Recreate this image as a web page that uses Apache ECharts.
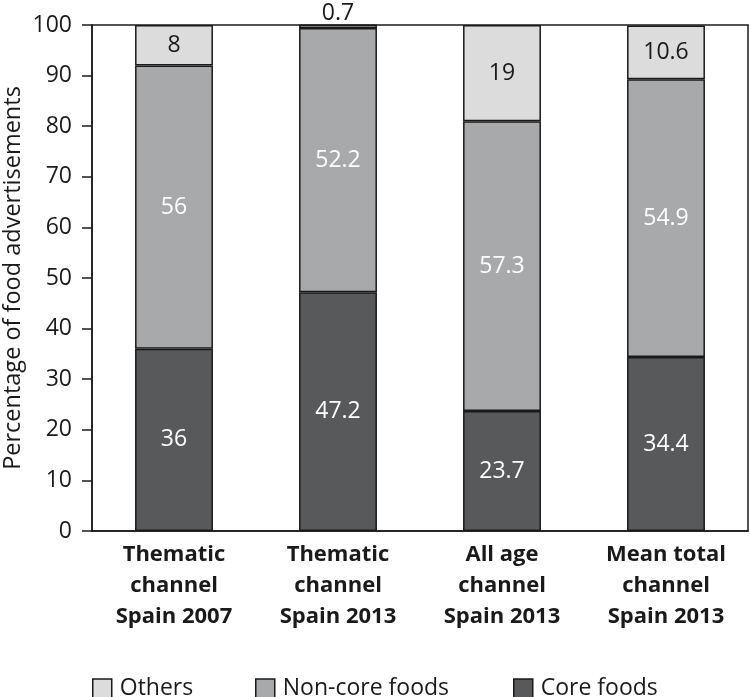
<!DOCTYPE html>
<html><head><meta charset="utf-8">
<script src="https://cdn.jsdelivr.net/npm/echarts@6/dist/echarts.min.js"></script>
<style>html,body{margin:0;padding:0;background:#fff}#c{width:750px;height:697px}</style>
</head><body><div id="c"></div>
<script>
const categories = ['Thematic\nchannel\nSpain 2007','Thematic\nchannel\nSpain 2013','All age\nchannel\nSpain 2013','Mean total\nchannel\nSpain 2013'];
const coreFoods = [36, 47.2, 23.7, 34.4];
const nonCoreFoods = [56, 52.2, 57.3, 54.9];
const others = [8, 0.7, 19, 10.6];
const yTicks = {min:0, max:100, interval:10};

const font = '"Open Sans", "Noto Sans", sans-serif';
const chart = echarts.init(document.getElementById('c'));
const barBase = {type:'bar', stack:'s', barWidth:'47.5%', itemStyle:{borderColor:'#1a1a1a', borderWidth:1.5}};
const legendBase = {icon:'rect', top:677, itemWidth:19, itemHeight:19, padding:0,
  textStyle:{fontSize:23, color:'#1a1a1a', fontFamily:font, padding:[0,0,0,3]},
  itemStyle:{borderColor:'#1a1a1a', borderWidth:1.5}};
chart.setOption({
  animation:false,
  textStyle:{fontFamily:font},
  grid:{left:92, right:2, top:25, bottom:166, containLabel:false, outerBoundsMode:'none', show:true, borderColor:'#1a1a1a', borderWidth:1.5},
  legend:[
    Object.assign({}, legendBase, {data:['Others'], left:92}),
    Object.assign({}, legendBase, {data:['Non-core foods'], left:255}),
    Object.assign({}, legendBase, {data:['Core foods'], left:513})
  ],
  xAxis:{type:'category', data:categories,
    axisLine:{lineStyle:{color:'#1a1a1a', width:1.5}},
    axisTick:{length:10, lineStyle:{color:'#1a1a1a', width:1.5}},
    axisLabel:{fontSize:22, fontWeight:'bold', color:'#1a1a1a', lineHeight:31, margin:8, fontFamily:font}},
  yAxis:{type:'value', min:yTicks.min, max:yTicks.max, interval:yTicks.interval,
    name:'Percentage of food advertisements', nameLocation:'middle', nameGap:67, nameMoveOverlap:false,
    nameTextStyle:{fontSize:23.5, color:'#1a1a1a', fontFamily:font},
    axisLine:{show:true, lineStyle:{color:'#1a1a1a', width:1.5}},
    axisTick:{show:true, length:10, lineStyle:{color:'#1a1a1a', width:1.5}},
    splitLine:{show:false},
    axisLabel:{fontSize:23, color:'#1a1a1a', margin:20, fontFamily:font}},
  series:[
    Object.assign({}, barBase, {name:'Core foods', data:coreFoods, itemStyle:Object.assign({}, barBase.itemStyle, {color:'#58595b'}),
      label:{show:true, position:'inside', color:'#fff', fontSize:23, fontFamily:font}}),
    Object.assign({}, barBase, {name:'Non-core foods', data:nonCoreFoods, itemStyle:Object.assign({}, barBase.itemStyle, {color:'#a8a9ab'}),
      label:{show:true, position:'inside', color:'#fff', fontSize:23, fontFamily:font}}),
    Object.assign({}, barBase, {name:'Others', itemStyle:Object.assign({}, barBase.itemStyle, {color:'#dcdcdd'}),
      data: others.map(v => v < 3 ? {value:v, label:{position:'top', distance:0}} : v),
      label:{show:true, position:'inside', color:'#1a1a1a', fontSize:23, fontFamily:font}})
  ]
});
</script></body></html>
